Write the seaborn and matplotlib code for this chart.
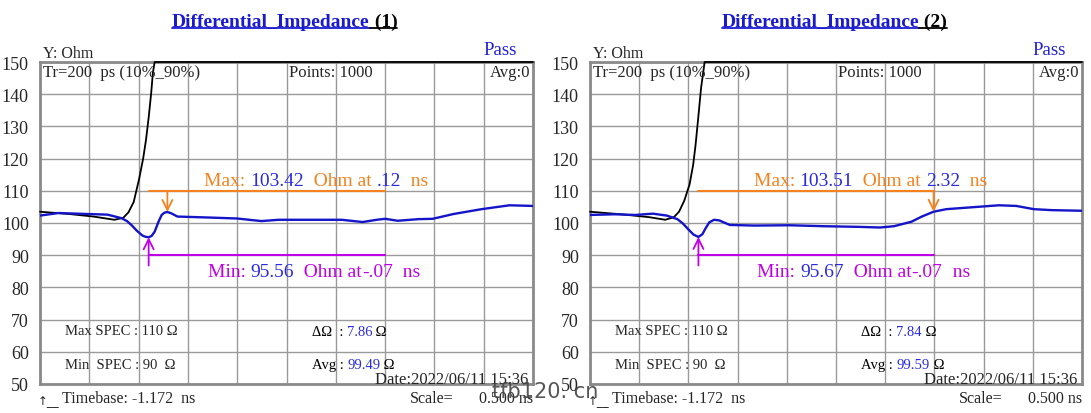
import numpy as np
import pandas as pd
import matplotlib
matplotlib.use("Agg")
import matplotlib.pyplot as plt
from matplotlib.lines import Line2D
import seaborn as sns

# time base (ns), 10 divisions of 0.5 ns
timebase = -1.172
scale = 0.5
n_div = 10

# panel 1 - differential impedance (blue) and raw TDR step (black)
t_blue_1 = [-1.172, -0.984, -0.700, -0.488, -0.346, -0.29, -0.239, -0.19, -0.133, -0.10,
            -0.07, -0.04, -0.009, 0.03, 0.062, 0.09, 0.12, 0.16, 0.222, 0.541,
            0.825, 1.073, 1.250, 1.605, 1.888, 2.101, 2.243, 2.328, 2.456, 2.668,
            2.810, 3.023, 3.307, 3.590, 3.828]
z_blue_1 = [102.3, 103.1, 102.8, 102.6, 101.5, 100.6, 99.2, 97.6, 96.1, 95.7,
            95.56, 96.0, 97.3, 100.4, 102.5, 103.2, 103.42, 103.0, 102.0, 101.7,
            101.4, 100.6, 101.0, 101.0, 101.0, 100.3, 101.0, 101.3, 100.7, 101.2,
            101.3, 102.8, 104.3, 105.5, 105.3]
t_black_1 = [-1.172, -0.878, -0.629, -0.417, -0.328, -0.275, -0.222, -0.168, -0.126, -0.097,
             -0.069, -0.044, -0.027, -0.009, 3.828]
z_black_1 = [103.5, 102.8, 102.0, 101.0, 101.6, 103.3, 106.5, 113.5, 120.0, 125.8,
             133.0, 140.5, 146.7, 150.0, 150.0]

# panel 2
t_blue_2 = [-1.172, -0.923, -0.710, -0.533, -0.391, -0.284, -0.23, -0.178, -0.12, -0.07,
            -0.03, 0.0, 0.04, 0.089, 0.142, 0.248, 0.497, 0.852, 1.207, 1.562,
            1.775, 1.917, 2.095, 2.2, 2.32, 2.450, 2.628, 2.983, 3.160, 3.338,
            3.516, 3.828]
z_blue_2 = [102.5, 102.7, 102.5, 102.9, 102.3, 101.2, 99.9, 98.2, 96.4, 95.67,
            96.5, 98.2, 100.2, 101.0, 100.8, 99.4, 99.2, 99.3, 99.0, 98.8,
            98.6, 99.0, 100.4, 102.0, 103.51, 104.3, 104.7, 105.5, 105.3, 104.3,
            104.0, 103.8]
t_black_2 = [-1.172, -0.852, -0.568, -0.408, -0.320, -0.267, -0.213, -0.160, -0.124, -0.100,
             -0.071, -0.043, -0.007, 3.828]
z_black_2 = [103.5, 102.7, 101.8, 101.0, 101.8, 103.5, 107.0, 112.0, 118.0, 124.0,
             133.0, 142.0, 150.0, 150.0]

panel_names = ["(1)", "(2)"]
max_vals = [("103.42", ".12"), ("103.51", "2.32")]
max_pos = [(0.12, 103.42), (2.32, 103.51)]
min_vals = [("95.56", "-.07"), ("95.67", "-.07")]
min_pos = [(-0.07, 95.56), (-0.07, 95.67)]
delta_vals = ["7.86", "7.84"]
avg_vals = ["99.49", "99.59"]
window = (-0.07, 2.328)
spec_max, spec_min = 110, 90

ORANGE = "#f5821f"
MAGENTA = "#c000e8"
CURVE = "#1414c8"
NUM = "#2a2ae0"
GRID = "#9a9a9a"

sns.set_style("white")
plt.rcParams["font.family"] = ["Liberation Serif", "DejaVu Sans"]

fig = plt.figure(figsize=(10.91, 4.14), dpi=100)
ax1 = fig.add_axes([40 / 1091, 29 / 414, 493 / 1091, 322 / 414])
ax2 = fig.add_axes([590 / 1091, 29 / 414, 492 / 1091, 322 / 414])


def seg_text(ax, x, y, parts, size, transform):
    t = ax.text(x, y, parts[0][0], color=parts[0][1], fontsize=size,
                va="bottom", ha="left", transform=transform)
    out = [t]
    for s, c in parts[1:]:
        t = ax.annotate(s, xy=(1, 0), xycoords=t, va="bottom", ha="left",
                        color=c, fontsize=size)
        out.append(t)
    return out


title_parts = []
panels = [(ax1, t_blue_1, z_blue_1, t_black_1, z_black_1),
          (ax2, t_blue_2, z_blue_2, t_black_2, z_black_2)]
for i, (ax, tb, zb, tk, zk) in enumerate(panels):
    df_b = pd.DataFrame({"t": tb, "z": zb})
    df_k = pd.DataFrame({"t": tk, "z": zk})
    sns.lineplot(data=df_k, x="t", y="z", ax=ax, color="black", lw=1.3,
                 clip_on=False, zorder=3)
    sns.lineplot(data=df_b, x="t", y="z", ax=ax, color=CURVE, lw=1.7, zorder=4)

    x0, x1 = timebase, timebase + n_div * scale
    ax.set_xlim(x0, x1)
    ax.set_ylim(50, 150)
    ax.set_xticks(np.arange(n_div + 1) * scale + timebase)
    ax.set_xticklabels([])
    ax.set_yticks(np.arange(50, 151, 10))
    ax.tick_params(axis="y", length=0, pad=8, labelsize=13)
    ax.tick_params(axis="x", length=0)
    ax.grid(True, color=GRID, lw=1)
    ax.set_xlabel("")
    ax.set_ylabel("")
    for sp in ax.spines.values():
        sp.set_color("#8a8a8a")
        sp.set_linewidth(2)

    # max / min markers
    ax.plot(window, [spec_max, spec_max], color=ORANGE, lw=1.5, zorder=5)
    ax.plot(window, [spec_min, spec_min], color=MAGENTA, lw=1.5, zorder=5)
    mx, my = max_pos[i]
    ax.annotate("", xy=(mx, my), xytext=(mx, spec_max),
                arrowprops=dict(arrowstyle="->", color=ORANGE, lw=1.3,
                                mutation_scale=18, shrinkA=0, shrinkB=0), zorder=6)
    nx, ny = min_pos[i]
    ax.annotate("", xy=(nx, ny), xytext=(nx, 86.8),
                arrowprops=dict(arrowstyle="->", color=MAGENTA, lw=1.3,
                                mutation_scale=18, shrinkA=0, shrinkB=0), zorder=6)

    seg_text(ax, 0.49, 110.7, [("Max: ", ORANGE), (max_vals[i][0], NUM),
                               ("  Ohm at ", ORANGE), (max_vals[i][1], NUM),
                               ("  ns", ORANGE)], 14, ax.transData)
    seg_text(ax, 0.53, 82.4, [("Min: ", MAGENTA), (min_vals[i][0], NUM),
                              ("  Ohm at", MAGENTA), (min_vals[i][1], MAGENTA),
                              ("  ns", MAGENTA)], 14, ax.transData)

    # header texts inside / above the plot
    tr = ax.transAxes
    ax.text(0.006, 0.995, "Tr=200  ps (10%_90%)", transform=tr, fontsize=12,
            va="top", ha="left")
    ax.text(0.505, 0.995, "Points: 1000", transform=tr, fontsize=12,
            va="top", ha="left")
    ax.text(0.994, 0.995, "Avg:0", transform=tr, fontsize=12, va="top", ha="right")
    ax.text(0.006, 1.003, "Y: Ohm", transform=tr, fontsize=11.5, va="bottom", ha="left")
    ax.text(0.968, 1.012, "Pass", transform=tr, fontsize=13.5, va="bottom",
            ha="right", color="#2020d8")

    # spec summary
    ax.text(0.05, 66.5, "Max SPEC : 110 Ω", fontsize=10.5, va="center", ha="left",
            transform=ax.get_yaxis_transform())
    ax.text(0.05, 56.2, "Min  SPEC : 90  Ω", fontsize=10.5, va="center", ha="left",
            transform=ax.get_yaxis_transform())
    seg_text(ax, 0.551, 64.3, [("ΔΩ  : ", "black"), (delta_vals[i], NUM),
                               (" Ω", "black")], 10.5, ax.get_yaxis_transform())
    seg_text(ax, 0.551, 54.0, [("Avg : ", "black"), (avg_vals[i], NUM),
                               (" Ω", "black")], 10.5, ax.get_yaxis_transform())
    ax.text(0.99, 51.5, "Date:2022/06/11 15:36", fontsize=12, va="center",
            ha="right", transform=ax.get_yaxis_transform())

    # footer
    ax.text(0.045, -0.045, "Timebase: -1.172  ns", transform=tr, fontsize=11.5,
            va="center", ha="left")
    ax.text(0.75, -0.045, "Scale=", transform=tr, fontsize=11.5, va="center", ha="left")
    ax.text(1.0, -0.045, "0.500 ns", transform=tr, fontsize=11.5, va="center", ha="right")
    ax.text(-0.004, -0.05, "↑__", transform=tr, fontsize=8.5, va="center", ha="left",
            family=["DejaVu Sans"])

    # title
    tp = seg_text(ax, 0.268, 1.1, [("Differential_Impedance", "#1a1ad0"),
                                    (" " + panel_names[i], "black")], 14, tr)
    for t in tp:
        t.set_fontweight("bold")
    title_parts.extend(tp)

fig.text(0.5, 0.052, "tfb120. cn", fontsize=15, color="#444444", ha="center",
         va="center", family=["DejaVu Sans"], alpha=0.9)

fig.canvas.draw()
inv = fig.transFigure.inverted()
for t in title_parts:
    bb = t.get_window_extent()
    (fx0, fy0), (fx1, fy1) = inv.transform([(bb.x0, bb.y0 + 2), (bb.x1, bb.y0 + 2)])
    fig.add_artist(Line2D([fx0, fx1], [fy0, fy1], color=t.get_color(), lw=1.3))

fig.savefig("out.png", dpi=100)
